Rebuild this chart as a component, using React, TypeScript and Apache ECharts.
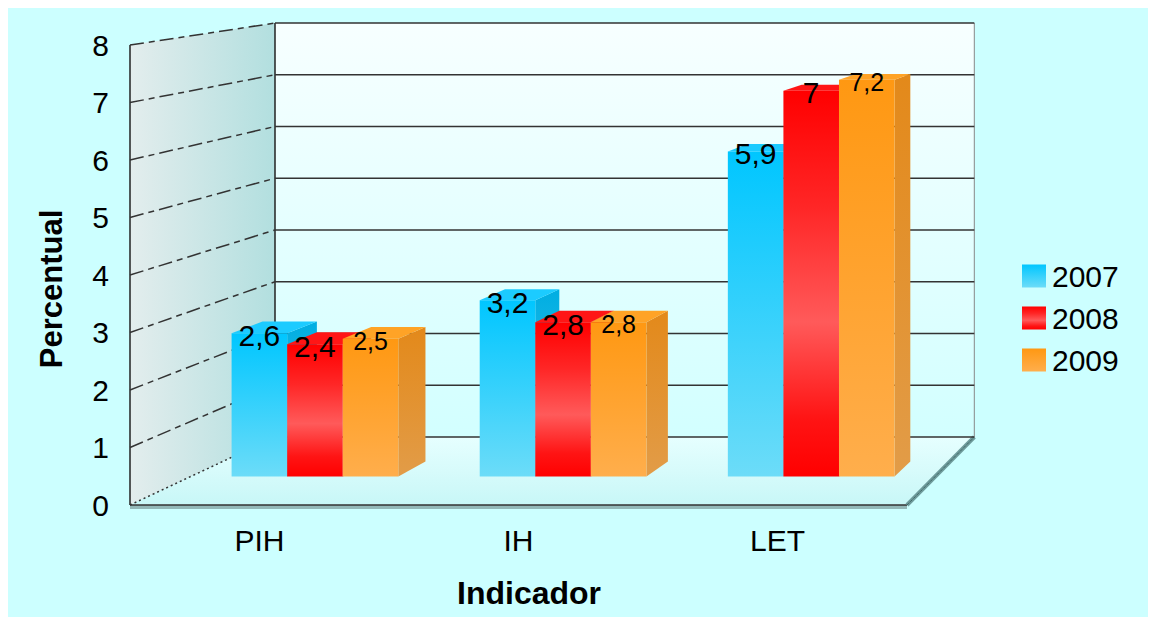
import React, { useEffect, useRef } from 'react';
import * as echarts from 'echarts';

// ---- data ----
const categories = ['PIH', 'IH', 'LET'];
const years = ['2007', '2008', '2009'];
const values2007 = [2.6, 3.2, 5.9];
const values2008 = [2.4, 2.8, 7];
const values2009 = [2.5, 2.8, 7.2];
const yTicks = [0, 1, 2, 3, 4, 5, 6, 7, 8];
const yAxisTitle = 'Percentual';
const xAxisTitle = 'Indicador';

// ---- style / layout constants ----
const FONT = '"Liberation Sans", Arial, Helvetica, sans-serif';
const VP = [1572, -183]; // vanishing point of the 3D projection
const S_BACK = 0.9;
const S_BAR_FRONT = 0.958;
const S_BAR_BACK = 0.936;
const BAR_FRACTION = 0.224;

function proj(x: number, y: number, s: number): number[] {
  return [VP[0] + s * (x - VP[0]), VP[1] + s * (y - VP[1])];
}

function lg(stops: [number, string][], horizontal = false) {
  return new echarts.graphic.LinearGradient(
    0, 0, horizontal ? 1 : 0, horizontal ? 0 : 1,
    stops.map(([offset, color]) => ({ offset, color }))
  );
}

const fmt = (v: number) => String(v).replace('.', ',');

const barStyles = [
  {
    front: () => lg([[0, '#00c6ff'], [1, '#6cdcf8']]),
    side: () => lg([[0, '#00aee2'], [1, '#4fc6ea']]),
    top: '#1ccbff',
    labelSize: 30,
  },
  {
    front: () => lg([[0, '#ff0000'], [0.3, '#ff2626'], [0.6, '#ff5a5a'], [0.85, '#ff1414'], [1, '#ff0000']]),
    side: () => lg([[0, '#d00000'], [1, '#d80000']]),
    top: '#ff1616',
    labelSize: 30,
  },
  {
    front: () => lg([[0, '#ff9812'], [1, '#ffae4c']]),
    side: () => lg([[0, '#e3891a'], [1, '#e29c48']]),
    top: '#ffa326',
    labelSize: 25,
  },
];

const seriesValues = [values2007, values2008, values2009];

export default function App() {
  const ref = useRef<HTMLDivElement>(null);

  useEffect(() => {
    if (!ref.current) return;
    const chart = echarts.init(ref.current, null, { renderer: 'svg' });

    const wallsRender = (params: any) => {
      const cs = params.coordSys;
      const L = cs.x, T = cs.y, R = cs.x + cs.width, B = cs.y + cs.height;
      const bTL = proj(L, T, S_BACK), bTR = proj(R, T, S_BACK);
      const bBL = proj(L, B, S_BACK), bBR = proj(R, B, S_BACK);
      return {
        type: 'group',
        children: [
          {
            type: 'rect',
            shape: { x: bTL[0], y: bTL[1], width: bTR[0] - bTL[0], height: bBL[1] - bTL[1] },
            style: { fill: lg([[0, '#f7ffff'], [1, '#d2ffff']]) },
          },
          {
            type: 'polygon',
            shape: { points: [[L, T], bTL, bBL, [L, B]] },
            style: { fill: lg([[0, '#e3eded'], [1, '#b2dfdf']], true) },
          },
          {
            type: 'polygon',
            shape: { points: [[L, B], [R, B], bBR, bBL] },
            style: { fill: lg([[0, '#e6ffff'], [1, '#c8f7f7']]) },
          },
          {
            type: 'line',
            shape: { x1: bTR[0], y1: bTR[1], x2: bBR[0], y2: bBR[1] },
            style: { stroke: '#888888', lineWidth: 1 },
          },
          {
            type: 'line',
            shape: { x1: bTL[0], y1: bTL[1], x2: bBL[0], y2: bBL[1] },
            style: { stroke: '#222222', lineWidth: 1.5 },
          },
          {
            type: 'line',
            shape: { x1: L, y1: T, x2: L, y2: B },
            style: { stroke: '#222222', lineWidth: 1.5 },
          },
          {
            type: 'polygon',
            shape: { points: [[L, B], [R, B], [R, B + 4], [L, B + 4]] },
            style: { fill: '#93b8b8' },
          },
          {
            type: 'line',
            shape: { x1: L, y1: B, x2: R, y2: B },
            style: { stroke: '#333333', lineWidth: 1.5 },
          },
          {
            type: 'line',
            shape: { x1: R, y1: B, x2: bBR[0], y2: bBR[1] },
            style: { stroke: '#6d9b9b', lineWidth: 4 },
          },
          {
            type: 'line',
            shape: { x1: R, y1: B, x2: bBR[0], y2: bBR[1] },
            style: { stroke: '#2f4f4f', lineWidth: 1, lineDash: [1, 1] },
          },
        ],
      };
    };

    const gridRender = (params: any, api: any) => {
      const cs = params.coordSys;
      const L = cs.x, R = cs.x + cs.width;
      const v = api.value(1);
      const y = api.coord([0, v])[1];
      const bl = proj(L, y, S_BACK), br = proj(R, y, S_BACK);
      return {
        type: 'group',
        children: [
          {
            type: 'line',
            shape: { x1: L, y1: y, x2: bl[0], y2: bl[1] },
            style: {
              stroke: '#333333',
              lineWidth: 1.5,
              lineDash: v === 0 ? [2, 3] : [14, 5, 6, 5],
            },
          },
          {
            type: 'line',
            shape: { x1: bl[0], y1: bl[1], x2: br[0], y2: br[1] },
            style: { stroke: '#333333', lineWidth: 1.6 },
          },
        ],
      };
    };

    const makeBarRender = (si: number) => (params: any, api: any) => {
      const st = barStyles[si];
      const i = api.value(0);
      const v = api.value(1);
      const topPt = api.coord([i, v]);
      const basePt = api.coord([i, 0]);
      const band = api.size([1, 0])[0];
      const w = band * BAR_FRACTION;
      const xc = topPt[0] + (si - 1) * w;
      const xl = xc - w / 2, xr = xc + w / 2;
      const y1 = topPt[1], y0 = basePt[1];
      const A = proj(xl, y1, S_BAR_FRONT), Bp = proj(xr, y1, S_BAR_FRONT);
      const C = proj(xr, y0, S_BAR_FRONT), D = proj(xl, y0, S_BAR_FRONT);
      const Ab = proj(xl, y1, S_BAR_BACK), Bb = proj(xr, y1, S_BAR_BACK), Cb = proj(xr, y0, S_BAR_BACK);
      return {
        type: 'group',
        children: [
          { type: 'polygon', shape: { points: [Bp, Bb, Cb, C] }, style: { fill: st.side() } },
          { type: 'polygon', shape: { points: [A, Bp, Bb, Ab] }, style: { fill: st.top } },
          {
            type: 'rect',
            shape: { x: A[0], y: A[1], width: Bp[0] - A[0], height: D[1] - A[1] },
            style: { fill: st.front() },
          },
          {
            type: 'text',
            z2: 100,
            style: {
              text: fmt(v),
              x: (A[0] + Bp[0]) / 2,
              y: A[1] + 2,
              align: 'center',
              verticalAlign: 'middle',
              fontSize: st.labelSize,
              fontFamily: FONT,
              fill: '#000000',
            },
          },
        ],
      };
    };

    const option: any = {
      animation: false,
      backgroundColor: '#ccffff',
      grid: { left: 122, top: 37, width: 777, height: 460, containLabel: false },
      xAxis: {
        type: 'category',
        data: categories,
        axisLine: { show: false },
        axisTick: { show: false },
        splitLine: { show: false },
        axisLabel: { fontSize: 30, fontFamily: FONT, color: '#000', margin: 20 },
      },
      yAxis: {
        type: 'value',
        min: 0,
        max: 8,
        interval: 1,
        axisLine: { show: false },
        axisTick: { show: false },
        splitLine: { show: false },
        axisLabel: { fontSize: 30, fontFamily: FONT, color: '#000', margin: 21 },
      },
      legend: {
        data: years,
        orient: 'vertical',
        left: 1009,
        top: 248,
        icon: 'rect',
        itemWidth: 24,
        itemHeight: 23,
        itemGap: 12,
        textStyle: { fontSize: 30, fontFamily: FONT, color: '#000', padding: [0, 0, 0, 1] },
      },
      graphic: [
        {
          type: 'text',
          x: 43,
          y: 281,
          rotation: Math.PI / 2,
          style: {
            text: yAxisTitle,
            fontSize: 31,
            fontWeight: 'bold',
            fontFamily: FONT,
            fill: '#000',
            align: 'center',
            verticalAlign: 'middle',
          },
        },
        {
          type: 'text',
          x: 521,
          y: 585,
          style: {
            text: xAxisTitle,
            fontSize: 32,
            fontWeight: 'bold',
            fontFamily: FONT,
            fill: '#000',
            align: 'center',
            verticalAlign: 'middle',
          },
        },
      ],
      series: [
        {
          type: 'custom',
          name: 'walls',
          z: 1,
          clip: false,
          silent: true,
          renderItem: wallsRender,
          data: [[0, 0]],
        },
        {
          type: 'custom',
          name: 'gridlines',
          z: 1,
          clip: false,
          silent: true,
          renderItem: gridRender,
          data: yTicks.map((t) => [0, t]),
        },
        ...years.map((y, si) => ({
          type: 'custom',
          name: y,
          z: 2,
          clip: false,
          itemStyle: { color: barStyles[si].front() },
          renderItem: makeBarRender(si),
          data: seriesValues[si].map((v, i) => [i, v]),
        })),
      ],
    };

    chart.setOption(option);
    return () => chart.dispose();
  }, []);

  return <div ref={ref} style={{ width: 1140, height: 609 }} />;
}
